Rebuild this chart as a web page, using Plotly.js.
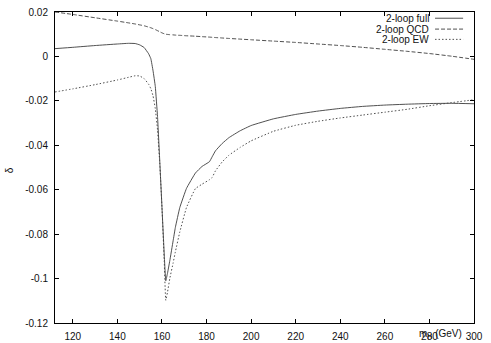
<!DOCTYPE html>
<html>
<head>
<meta charset="UTF-8">
<script src="https://cdn.plot.ly/plotly-3.0.1.min.js"></script>
<style>
  body { margin: 0; background: #fff; }
  #plot { width: 491px; height: 343px; }
</style>
</head>
<body>
<div id="plot"></div>
<script>
// Higgs mass grid (GeV), denser near the ttbar threshold
const mH = [112, 120, 130, 140, 145, 148, 150, 152, 154, 155, 156, 157, 158, 159, 160, 161, 161.7,
            162.5, 163.5, 165, 166, 168, 171, 175, 178, 181.3, 182.5, 184, 187, 190, 195, 200,
            210, 220, 230, 240, 250, 260, 270, 280, 290, 300];

const deltaFull = [0.0035, 0.0041, 0.0049, 0.0056, 0.0059, 0.0058, 0.0052, 0.0040, 0.0012, -0.0010,
                   -0.0065, -0.0135, -0.0270, -0.0470, -0.0680, -0.0890, -0.1010, -0.0975, -0.0920,
                   -0.0830, -0.0770, -0.0680, -0.0594, -0.0525, -0.0495, -0.0474, -0.0452, -0.0425,
                   -0.0392, -0.0366, -0.0335, -0.0311, -0.0281, -0.0261, -0.0246, -0.0234, -0.0225,
                   -0.0219, -0.0215, -0.0212, -0.0211, -0.0213];

const deltaQCD = [0.0200, 0.0189, 0.0174, 0.0159, 0.0151, 0.0146, 0.0142, 0.0138, 0.0132, 0.0129,
                  0.0125, 0.0121, 0.0116, 0.0111, 0.0106, 0.0102, 0.0100, 0.0099, 0.0098, 0.0097,
                  0.0096, 0.0095, 0.0093, 0.0091, 0.0089, 0.0087, 0.0086, 0.0085, 0.0083, 0.0081,
                  0.0078, 0.0075, 0.0069, 0.0063, 0.0056, 0.0049, 0.0041, 0.0032, 0.0023, 0.0013,
                  0.0001, -0.0013];

const deltaEW = [-0.0160, -0.0146, -0.0127, -0.0106, -0.0094, -0.0087, -0.0088, -0.0100, -0.0125,
                 -0.0145, -0.0178, -0.0235, -0.0330, -0.0480, -0.0680, -0.0920, -0.1098, -0.1060,
                 -0.1000, -0.0930, -0.0880, -0.0790, -0.0680, -0.0595, -0.0575, -0.0555, -0.0545,
                 -0.0515, -0.0475, -0.0445, -0.0410, -0.0380, -0.0337, -0.0310, -0.0292, -0.0277,
                 -0.0264, -0.0251, -0.0238, -0.0222, -0.0208, -0.0195];

const seriesNames = ['2-loop full', '2-loop QCD', '2-loop EW'];
const seriesDash = ['solid', '4px,2px', '1.5px,2px'];

const xTickVals = [120, 140, 160, 180, 200, 220, 240, 260, 280, 300];
const xTickText = ['120', '140', '160', '180', '200', '220', '240', '260', '280', '300'];
const yTickVals = [0.02, 0, -0.02, -0.04, -0.06, -0.08, -0.1, -0.12];
const yTickText = ['0.02', '0', '-0.02', '-0.04', '-0.06', '-0.08', '-0.1', '-0.12'];

const lineColor = '#3c3c3c';
const font = 'Liberation Sans, Arial, sans-serif';

const ys = [deltaFull, deltaQCD, deltaEW];
const data = ys.map((y, i) => ({
    type: 'scatter',
    mode: 'lines',
    x: mH,
    y: y,
    name: seriesNames[i],
    line: { color: lineColor, width: 0.9, dash: seriesDash[i], shape: 'spline', smoothing: 0.3 },
    hoverinfo: 'skip'
}));

// gnuplot style key: text right-aligned, sample line to its right
const keyRows = [0.980, 0.945, 0.912];
const annotations = seriesNames.map((n, i) => ({
    xref: 'paper', yref: 'paper', x: 0.897, y: keyRows[i],
    xanchor: 'right', yanchor: 'middle', showarrow: false,
    text: n, font: { family: font, size: 10, color: '#111' }
}));
const shapes = seriesNames.map((n, i) => ({
    type: 'line', xref: 'paper', yref: 'paper',
    x0: 0.907, x1: 0.974, y0: keyRows[i], y1: keyRows[i],
    line: { color: lineColor, width: 0.9, dash: seriesDash[i] }
}));

annotations.push({
    xref: 'paper', yref: 'paper', x: 0.921, y: -0.035,
    xanchor: 'center', yanchor: 'middle', showarrow: false,
    text: 'm<sub>H</sub> (GeV)', font: { family: font, size: 10, color: '#111' }
});
annotations.push({
    xref: 'paper', yref: 'paper', x: -0.107, y: 0.492,
    xanchor: 'center', yanchor: 'middle', showarrow: false, textangle: -90,
    text: 'δ', font: { family: font, size: 10, color: '#111' }
});

const axisCommon = {
    showgrid: false, zeroline: false,
    showline: true, linecolor: '#000', linewidth: 1, mirror: 'ticks',
    ticks: 'inside', ticklen: 4, tickcolor: '#000', tickwidth: 1,
    tickfont: { family: font, size: 10, color: '#111' },
    tickmode: 'array'
};

const layout = {
    width: 491, height: 343,
    margin: { l: 55, r: 17, t: 12, b: 20 },
    paper_bgcolor: '#fff', plot_bgcolor: '#fff',
    showlegend: false,
    xaxis: Object.assign({}, axisCommon, {
        range: [112, 300], tickvals: xTickVals, ticktext: xTickText, ticklabelstandoff: 4
    }),
    yaxis: Object.assign({}, axisCommon, {
        range: [-0.12, 0.02], tickvals: yTickVals, ticktext: yTickText, ticklabelstandoff: 4
    }),
    annotations: annotations,
    shapes: shapes
};

Plotly.newPlot('plot', data, layout, { displayModeBar: false, staticPlot: true });
</script>
</body>
</html>
